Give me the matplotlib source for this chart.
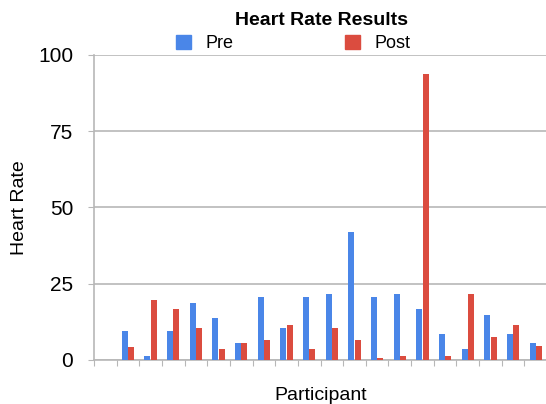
import matplotlib

matplotlib.use("Agg")
import matplotlib.pyplot as plt
import numpy as np
from matplotlib.patches import Patch

plt.rcParams["font.family"] = ["Liberation Sans", "DejaVu Sans"]

# participant 0 has no readings; the rest are read off the reference
participants = list(range(20))
pre = [np.nan, 9.6, 1.4, 9.6, 18.6, 13.7, 5.5, 20.6, 10.6, 20.6,
       21.7, 41.8, 20.6, 21.7, 16.6, 8.6, 3.5, 14.6, 8.6, 5.5]
post = [np.nan, 4.4, 19.6, 16.6, 10.6, 3.5, 5.5, 6.6, 11.6, 3.5,
        10.6, 6.6, 0.6, 1.4, 93.8, 1.4, 21.7, 7.5, 11.6, 4.5]
y_ticks = [0, 25, 50, 75, 100]

BLUE = "#4A86E8"
RED = "#DB4C3F"
GRID = "#B7B7B7"

fig = plt.figure(figsize=(5.46, 4.04), dpi=100)
ax = fig.add_axes([0.172, 0.109, 0.830, 0.755])

x = np.arange(len(participants))
w = 0.26
ax.bar(x - w / 2 - 0.01, pre, width=w, color=BLUE, zorder=3)
ax.bar(x + w / 2 + 0.01, post, width=w, color=RED, zorder=3)

ax.set_xlim(-0.5, len(participants) - 0.5)
ax.set_ylim(0, 100)
ax.set_yticks(y_ticks)
ax.set_yticklabels([str(t) for t in y_ticks], fontsize=15)
ax.yaxis.grid(True, color=GRID, linewidth=1.2, zorder=0)
ax.tick_params(axis="y", length=4, color=GRID, pad=11)

ax.set_xticks(np.arange(-0.5, len(participants), 1.0))
ax.set_xticklabels([])
ax.tick_params(axis="x", length=4, color=GRID)

for side in ("top", "right"):
    ax.spines[side].set_visible(False)
for side in ("left", "bottom"):
    ax.spines[side].set_color(GRID)
    ax.spines[side].set_linewidth(1.2)

ax.set_ylabel("Heart Rate", fontsize=14, labelpad=7)
ax.set_xlabel("Participant", fontsize=14, labelpad=12)

fig.text(0.588, 0.950, "Heart Rate Results", ha="center", va="center",
         fontsize=14, fontweight="bold")
handles = [Patch(color=BLUE, label="Pre"), Patch(color=RED, label="Post")]
fig.legend(handles=handles, loc="center", bbox_to_anchor=(0.537, 0.892),
           ncol=2, frameon=False, fontsize=13, handlelength=0.8,
           handleheight=0.8, columnspacing=6.2, handletextpad=0.8)

fig.savefig("out.png", dpi=100)
plt.close(fig)
